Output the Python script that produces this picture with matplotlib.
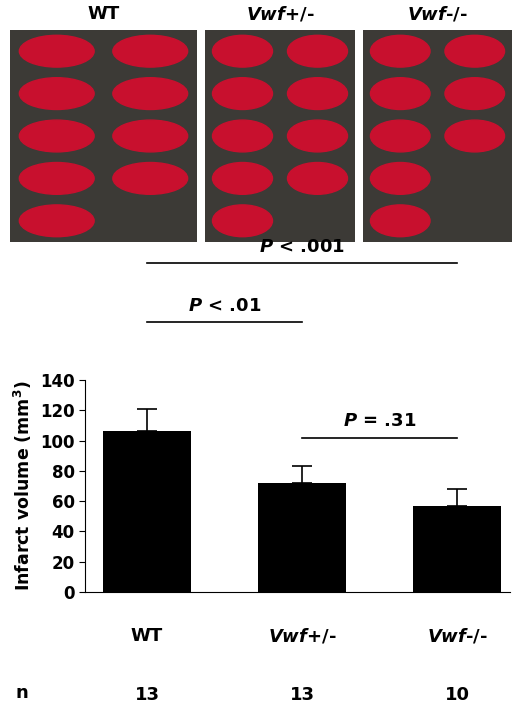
import matplotlib.pyplot as plt
from matplotlib.patches import Ellipse

plt.rcParams["mathtext.fontset"] = "custom"
plt.rcParams["mathtext.it"] = "DejaVu Sans:italic:bold"
plt.rcParams["mathtext.rm"] = "DejaVu Sans:bold"

groups = ["WT", "Vwf+/-", "Vwf-/-"]
group_tex = ["WT", r"$\mathit{Vwf}$+/-", r"$\mathit{Vwf}$-/-"]
infarct = [106, 72, 57]
sem = [15, 11, 11]
n_mice = [13, 13, 10]
# (left group, right group, label, bracket height in mm3)
comparisons = [(0, 1, r"$\mathit{P}$ < .01", 178),
               (0, 2, r"$\mathit{P}$ < .001", 217),
               (1, 2, r"$\mathit{P}$ = .31", 102)]
slices_per_panel = [9, 9, 8]

fig = plt.figure(figsize=(5.2, 7.15), dpi=100)
W, H = 520, 715

# photo panels (stylised stand-ins for the TTC-stained brain slices)
panels = [(10, 197), (205, 355), (363, 512)]
for (x0, x1), lab, ns in zip(panels, group_tex, slices_per_panel):
    pa = fig.add_axes([x0 / W, 1 - 242 / H, (x1 - x0) / W, 212 / H])
    pa.set_facecolor("#3c3a36")
    pa.set_xlim(0, 2); pa.set_ylim(0, 5)
    pa.set_xticks([]); pa.set_yticks([])
    for s in pa.spines.values():
        s.set_visible(False)
    for i in range(ns):
        col, row = i // 5, i % 5
        pa.add_patch(Ellipse((0.5 + col, 4.5 - row), 0.8, 0.75, color="#c8102e"))
    fig.text((x0 + x1) / 2 / W, 1 - 14 / H, lab, ha="center", va="center",
             fontsize=13, fontweight="bold")

ax = fig.add_axes([85 / W, 1 - 592 / H, 425 / W, 212 / H])
x = list(range(len(groups)))
ax.errorbar(x, infarct, yerr=[[0] * 3, sem], fmt="none", ecolor="black",
            capsize=7, elinewidth=1.2, capthick=1.2, zorder=1)
ax.bar(x, infarct, width=0.57, color="black", zorder=2)
ax.set_xlim(-0.4, 2.34)
ax.set_ylim(0, 140)
ax.set_yticks(range(0, 141, 20))
ax.tick_params(axis="y", labelsize=12, direction="out", length=4)
for t in ax.get_yticklabels():
    t.set_fontweight("bold")
ax.set_xticks([])
ax.spines["top"].set_visible(False)
ax.spines["right"].set_visible(False)
ax.set_ylabel("Infarct volume (mm$^3$)", fontsize=12.5, fontweight="bold")

for a, b, lab, h in comparisons:
    ax.plot([a, b], [h, h], color="black", lw=1.2, clip_on=False)
    ax.text((a + b) / 2, h + 5, lab, ha="center", va="bottom",
            fontsize=13, fontweight="bold")

for xi, lab, n in zip(x, group_tex, n_mice):
    ax.text(xi, -29, lab, ha="center", va="center", fontsize=13, fontweight="bold")
    ax.text(xi, -68, str(n), ha="center", va="center", fontsize=13, fontweight="bold")
fig.text(22 / W, 1 - 693 / H, "n", ha="center", va="center", fontsize=13, fontweight="bold")

fig.savefig("out.png", dpi=100)
